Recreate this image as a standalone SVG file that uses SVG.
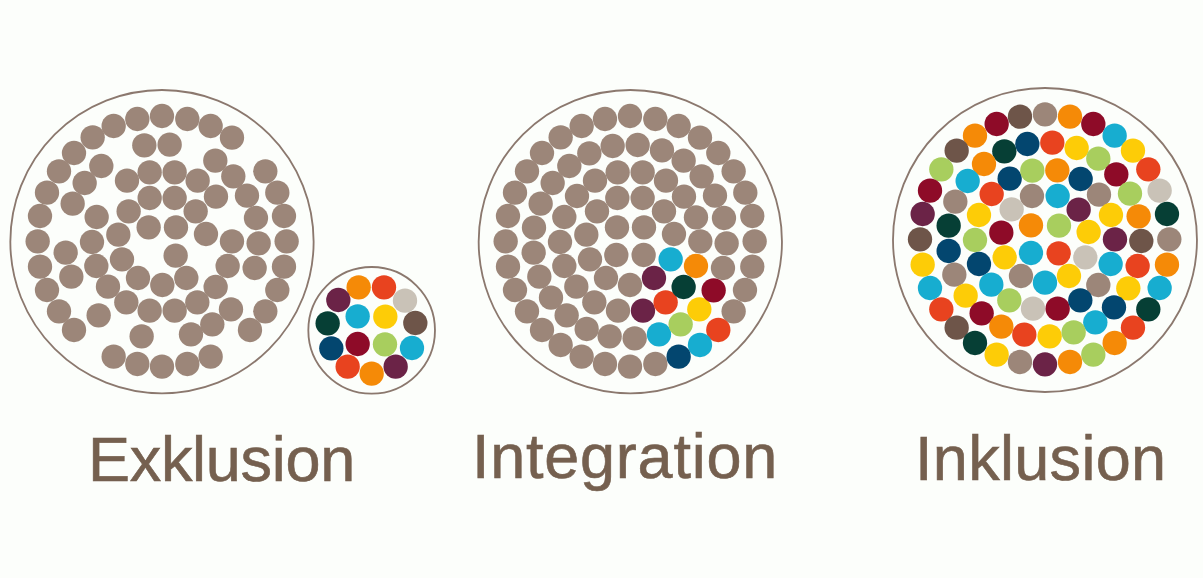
<svg xmlns="http://www.w3.org/2000/svg" width="1203" height="578" viewBox="0 0 1203 578">
<style>
.ring{fill:none;stroke:#8b786e;stroke-width:5.5}
.t{fill:#9c8679}.o{fill:#f58a07}.r{fill:#e8431f}.dr{fill:#8e0b28}.p{fill:#6b2347}.dg{fill:#063f35}.n{fill:#03466f}.c{fill:#17add0}.y{fill:#fdcc07}.g{fill:#a8ce5e}.b{fill:#6e5549}.e{fill:#c9c2b7}
.lbl{font-family:"Liberation Sans",Arial,sans-serif;font-size:63px;fill:#75604f;stroke:#75604f;stroke-width:.6}
</style>
<defs><circle id="dot" r="36.5"/></defs>
<rect width="1203" height="578" fill="#fcfefb"/>
<g id="exklusion-circle" transform="translate(0 80) scale(.3333)">
<circle class="ring" cx="486" cy="485" r="455"/>
<g class="t">
<use href="#dot" x="341" y="138"/><use href="#dot" x="412" y="117"/><use href="#dot" x="486" y="108"/><use href="#dot" x="562" y="117"/><use href="#dot" x="632" y="138"/><use href="#dot" x="696" y="173"/>
<use href="#dot" x="278" y="172"/><use href="#dot" x="222" y="219"/><use href="#dot" x="177" y="274"/><use href="#dot" x="141" y="338"/><use href="#dot" x="120" y="408"/><use href="#dot" x="113" y="484"/><use href="#dot" x="120" y="560"/><use href="#dot" x="141" y="630"/><use href="#dot" x="177" y="694"/><use href="#dot" x="222" y="750"/>
<use href="#dot" x="796" y="274"/><use href="#dot" x="832" y="338"/><use href="#dot" x="852" y="408"/><use href="#dot" x="860" y="484"/><use href="#dot" x="852" y="560"/><use href="#dot" x="832" y="630"/><use href="#dot" x="796" y="694"/><use href="#dot" x="750" y="750"/>
<use href="#dot" x="341" y="830"/><use href="#dot" x="412" y="852"/><use href="#dot" x="486" y="860"/><use href="#dot" x="562" y="852"/><use href="#dot" x="632" y="830"/>
<use href="#dot" x="433" y="196"/><use href="#dot" x="509" y="194"/><use href="#dot" x="646" y="242"/><use href="#dot" x="304" y="258"/><use href="#dot" x="254" y="309"/><use href="#dot" x="381" y="302"/><use href="#dot" x="449" y="277"/><use href="#dot" x="524" y="277"/><use href="#dot" x="593" y="302"/><use href="#dot" x="700" y="289"/><use href="#dot" x="741" y="347"/><use href="#dot" x="449" y="354"/><use href="#dot" x="524" y="354"/><use href="#dot" x="648" y="350"/><use href="#dot" x="218" y="371"/><use href="#dot" x="386" y="394"/><use href="#dot" x="587" y="394"/><use href="#dot" x="768" y="414"/><use href="#dot" x="290" y="411"/><use href="#dot" x="446" y="442"/><use href="#dot" x="528" y="442"/><use href="#dot" x="618" y="462"/><use href="#dot" x="355" y="464"/><use href="#dot" x="696" y="484"/><use href="#dot" x="776" y="490"/><use href="#dot" x="276" y="486"/><use href="#dot" x="197" y="518"/><use href="#dot" x="527" y="527"/><use href="#dot" x="366" y="538"/><use href="#dot" x="683" y="558"/><use href="#dot" x="764" y="564"/><use href="#dot" x="289" y="558"/><use href="#dot" x="214" y="590"/><use href="#dot" x="414" y="594"/><use href="#dot" x="487" y="615"/><use href="#dot" x="559" y="594"/><use href="#dot" x="324" y="620"/><use href="#dot" x="647" y="621"/><use href="#dot" x="379" y="667"/><use href="#dot" x="449" y="692"/><use href="#dot" x="524" y="692"/><use href="#dot" x="592" y="667"/><use href="#dot" x="693" y="688"/><use href="#dot" x="296" y="706"/><use href="#dot" x="637" y="733"/><use href="#dot" x="573" y="763"/><use href="#dot" x="425" y="769"/>
</g>
</g>
<g id="exklusion-small" transform="translate(300 260) scale(.3333)">
<circle class="ring" cx="215" cy="211" r="190"/>
<use href="#dot" class="o" x="176" y="82"/><use href="#dot" class="r" x="252" y="82"/><use href="#dot" class="p" x="115" y="120"/><use href="#dot" class="e" x="315" y="122"/><use href="#dot" class="dg" x="83" y="190"/><use href="#dot" class="c" x="173" y="169"/><use href="#dot" class="y" x="256" y="170"/><use href="#dot" class="b" x="346" y="189"/><use href="#dot" class="n" x="94" y="265"/><use href="#dot" class="dr" x="173" y="252"/><use href="#dot" class="g" x="255" y="253"/><use href="#dot" class="c" x="336" y="264"/><use href="#dot" class="r" x="143" y="320"/><use href="#dot" class="o" x="215" y="341"/><use href="#dot" class="p" x="287" y="320"/>
</g>
<g id="integration-circle" transform="translate(470 80) scale(.3333)">
<circle class="ring" cx="481" cy="485" r="455"/>
<g class="t">
<use href="#dot" x="114" y="408"/><use href="#dot" x="107" y="484"/><use href="#dot" x="114" y="560"/><use href="#dot" x="135" y="338"/><use href="#dot" x="171" y="274"/><use href="#dot" x="216" y="219"/><use href="#dot" x="272" y="172"/><use href="#dot" x="335" y="138"/><use href="#dot" x="405" y="117"/><use href="#dot" x="480" y="108"/><use href="#dot" x="556" y="117"/><use href="#dot" x="626" y="138"/><use href="#dot" x="690" y="173"/><use href="#dot" x="745" y="219"/><use href="#dot" x="791" y="274"/><use href="#dot" x="826" y="338"/><use href="#dot" x="847" y="408"/><use href="#dot" x="854" y="484"/><use href="#dot" x="847" y="560"/><use href="#dot" x="825" y="630"/><use href="#dot" x="791" y="694"/><use href="#dot" x="556" y="852"/><use href="#dot" x="480" y="860"/><use href="#dot" x="405" y="852"/><use href="#dot" x="335" y="830"/><use href="#dot" x="272" y="795"/><use href="#dot" x="216" y="750"/><use href="#dot" x="171" y="694"/><use href="#dot" x="135" y="630"/>
<use href="#dot" x="298" y="258"/><use href="#dot" x="358" y="220"/><use href="#dot" x="428" y="198"/><use href="#dot" x="503" y="195"/><use href="#dot" x="576" y="211"/><use href="#dot" x="641" y="242"/><use href="#dot" x="695" y="289"/><use href="#dot" x="735" y="347"/><use href="#dot" x="762" y="414"/><use href="#dot" x="770" y="490"/><use href="#dot" x="759" y="564"/><use href="#dot" x="192" y="443"/><use href="#dot" x="191" y="518"/><use href="#dot" x="208" y="590"/><use href="#dot" x="243" y="653"/><use href="#dot" x="290" y="706"/><use href="#dot" x="350" y="747"/><use href="#dot" x="419" y="769"/><use href="#dot" x="494" y="775"/><use href="#dot" x="248" y="309"/><use href="#dot" x="212" y="371"/>
<use href="#dot" x="375" y="302"/><use href="#dot" x="443" y="277"/><use href="#dot" x="518" y="277"/><use href="#dot" x="588" y="302"/><use href="#dot" x="321" y="348"/><use href="#dot" x="283" y="411"/><use href="#dot" x="270" y="486"/><use href="#dot" x="283" y="558"/><use href="#dot" x="319" y="620"/><use href="#dot" x="373" y="667"/><use href="#dot" x="444" y="692"/><use href="#dot" x="442" y="354"/><use href="#dot" x="518" y="354"/><use href="#dot" x="642" y="350"/><use href="#dot" x="678" y="412"/><use href="#dot" x="691" y="484"/><use href="#dot" x="349" y="464"/><use href="#dot" x="381" y="394"/><use href="#dot" x="582" y="394"/><use href="#dot" x="441" y="442"/><use href="#dot" x="522" y="442"/><use href="#dot" x="612" y="462"/><use href="#dot" x="360" y="538"/><use href="#dot" x="439" y="525"/><use href="#dot" x="521" y="525"/><use href="#dot" x="408" y="594"/><use href="#dot" x="480" y="615"/>
</g>
<use href="#dot" class="r" x="745" y="750"/><use href="#dot" class="c" x="690" y="795"/><use href="#dot" class="n" x="626" y="830"/><use href="#dot" class="c" x="567" y="763"/><use href="#dot" class="g" x="632" y="733"/><use href="#dot" class="y" x="688" y="688"/><use href="#dot" class="dr" x="731" y="631"/><use href="#dot" class="o" x="678" y="558"/><use href="#dot" class="p" x="519" y="692"/><use href="#dot" class="r" x="587" y="667"/><use href="#dot" class="dg" x="641" y="621"/><use href="#dot" class="p" x="552" y="594"/><use href="#dot" class="c" x="602" y="538"/>
</g>
<g id="inklusion-circle" transform="translate(885 80) scale(.3333)">
<circle class="ring" cx="480" cy="480" r="456"/>
<use href="#dot" class="b" x="405" y="110"/><use href="#dot" class="t" x="480" y="103"/><use href="#dot" class="o" x="555" y="110"/><use href="#dot" class="dr" x="335" y="132"/><use href="#dot" class="dr" x="625" y="132"/><use href="#dot" class="o" x="270" y="167"/><use href="#dot" class="c" x="689" y="167"/><use href="#dot" class="b" x="215" y="212"/><use href="#dot" class="y" x="744" y="212"/><use href="#dot" class="g" x="169" y="268"/><use href="#dot" class="r" x="790" y="268"/><use href="#dot" class="dr" x="135" y="332"/><use href="#dot" class="e" x="824" y="332"/><use href="#dot" class="p" x="113" y="402"/><use href="#dot" class="dg" x="846" y="402"/><use href="#dot" class="b" x="105" y="478"/><use href="#dot" class="t" x="853" y="478"/><use href="#dot" class="y" x="113" y="554"/><use href="#dot" class="o" x="846" y="554"/><use href="#dot" class="c" x="135" y="624"/><use href="#dot" class="c" x="824" y="624"/><use href="#dot" class="r" x="169" y="688"/><use href="#dot" class="dg" x="790" y="688"/><use href="#dot" class="b" x="215" y="743"/><use href="#dot" class="r" x="744" y="743"/><use href="#dot" class="dg" x="270" y="789"/><use href="#dot" class="o" x="689" y="789"/><use href="#dot" class="y" x="335" y="824"/><use href="#dot" class="g" x="625" y="824"/><use href="#dot" class="t" x="405" y="846"/><use href="#dot" class="p" x="480" y="853"/><use href="#dot" class="o" x="555" y="846"/>
<use href="#dot" class="dg" x="358" y="214"/><use href="#dot" class="n" x="427" y="192"/><use href="#dot" class="r" x="502" y="188"/><use href="#dot" class="y" x="575" y="204"/><use href="#dot" class="g" x="640" y="236"/><use href="#dot" class="o" x="297" y="252"/><use href="#dot" class="dr" x="694" y="283"/><use href="#dot" class="c" x="248" y="303"/><use href="#dot" class="n" x="374" y="296"/><use href="#dot" class="g" x="442" y="272"/><use href="#dot" class="o" x="517" y="271"/><use href="#dot" class="n" x="587" y="297"/><use href="#dot" class="g" x="735" y="341"/><use href="#dot" class="r" x="320" y="342"/><use href="#dot" class="t" x="441" y="348"/><use href="#dot" class="c" x="518" y="348"/><use href="#dot" class="t" x="642" y="344"/><use href="#dot" class="t" x="211" y="365"/><use href="#dot" class="e" x="380" y="388"/><use href="#dot" class="p" x="581" y="389"/><use href="#dot" class="y" x="678" y="405"/><use href="#dot" class="o" x="761" y="409"/><use href="#dot" class="y" x="282" y="405"/><use href="#dot" class="dg" x="191" y="437"/><use href="#dot" class="o" x="438" y="436"/><use href="#dot" class="g" x="522" y="437"/><use href="#dot" class="y" x="611" y="456"/><use href="#dot" class="dr" x="349" y="458"/><use href="#dot" class="p" x="690" y="478"/><use href="#dot" class="b" x="769" y="483"/><use href="#dot" class="g" x="270" y="480"/><use href="#dot" class="n" x="191" y="513"/><use href="#dot" class="y" x="359" y="532"/><use href="#dot" class="c" x="438" y="519"/><use href="#dot" class="r" x="521" y="520"/><use href="#dot" class="e" x="601" y="532"/><use href="#dot" class="c" x="677" y="552"/><use href="#dot" class="r" x="758" y="558"/><use href="#dot" class="n" x="282" y="552"/><use href="#dot" class="t" x="208" y="584"/><use href="#dot" class="t" x="408" y="588"/><use href="#dot" class="c" x="480" y="608"/><use href="#dot" class="y" x="552" y="588"/><use href="#dot" class="t" x="640" y="615"/><use href="#dot" class="y" x="730" y="625"/><use href="#dot" class="c" x="319" y="614"/><use href="#dot" class="y" x="242" y="647"/><use href="#dot" class="g" x="373" y="661"/><use href="#dot" class="e" x="444" y="686"/><use href="#dot" class="dr" x="518" y="686"/><use href="#dot" class="n" x="586" y="661"/><use href="#dot" class="n" x="687" y="682"/><use href="#dot" class="dr" x="290" y="700"/><use href="#dot" class="c" x="631" y="727"/><use href="#dot" class="o" x="349" y="740"/><use href="#dot" class="r" x="418" y="764"/><use href="#dot" class="y" x="494" y="769"/><use href="#dot" class="g" x="566" y="757"/>
</g>
<g id="labels">
<text class="lbl" x="88" y="481" letter-spacing="-.3">Exklusion</text>
<text class="lbl" x="472" y="478" letter-spacing=".75">Integration</text>
<text class="lbl" x="915" y="480" letter-spacing=".3">Inklusion</text>
</g>
<g id="connectors"/>
</svg>
